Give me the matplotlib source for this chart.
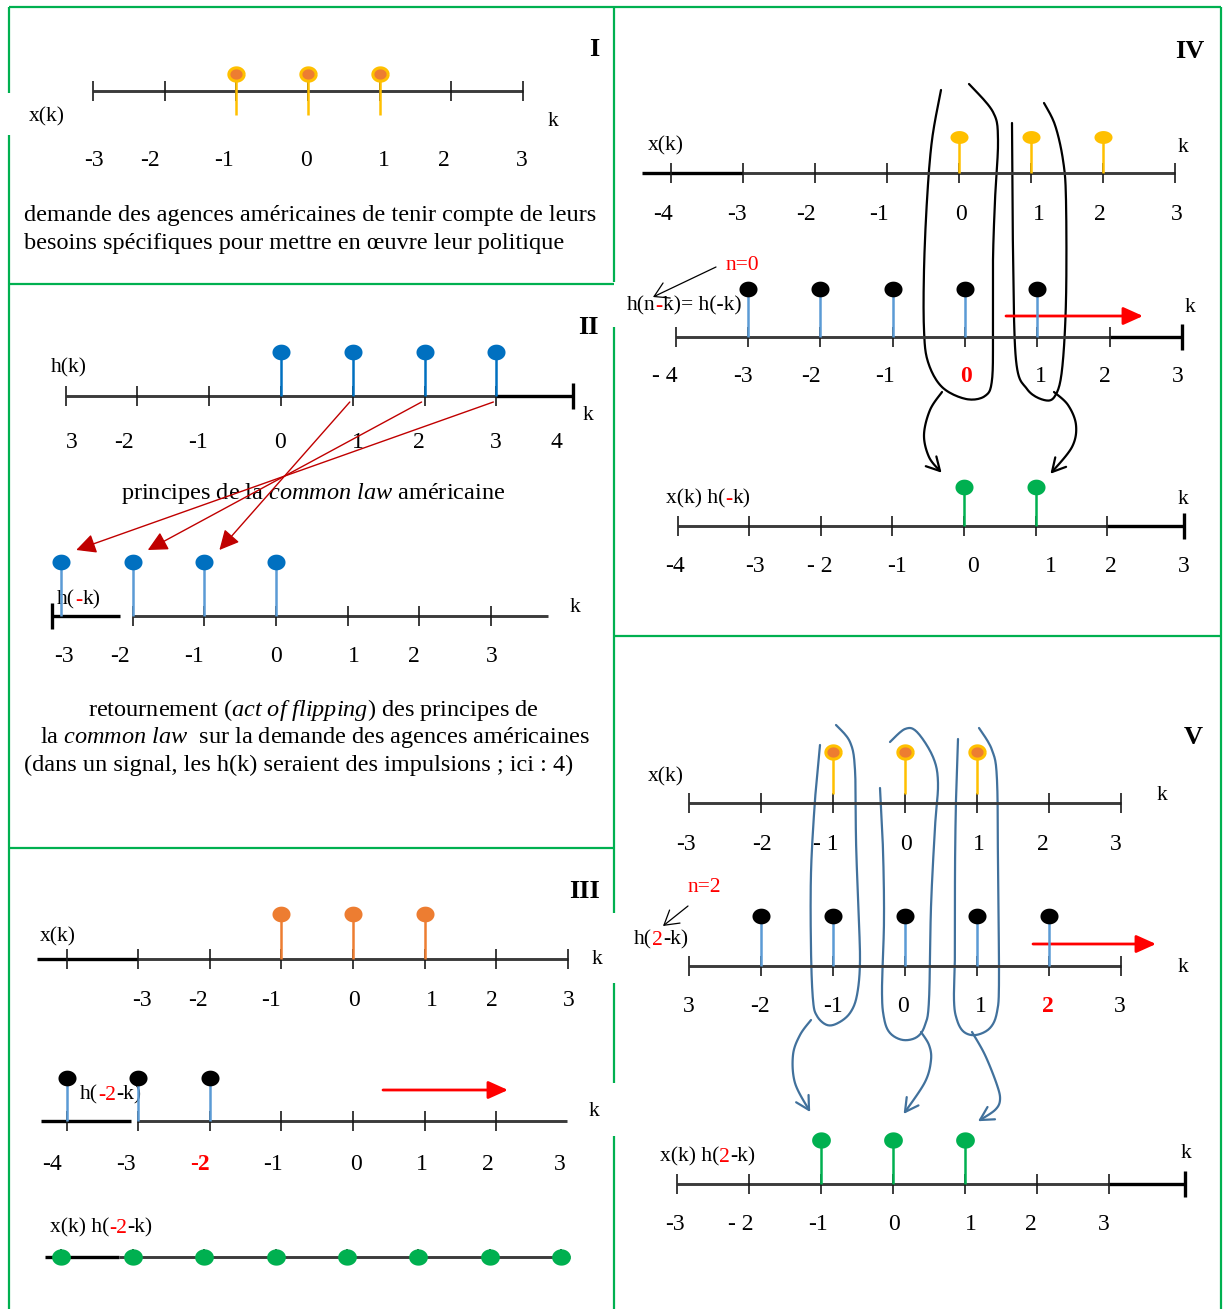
import numpy as np
import matplotlib
matplotlib.use("Agg")
import matplotlib.pyplot as plt
from matplotlib.path import Path
from matplotlib.patches import FancyArrowPatch

# ======================================================
# DATA
# ======================================================

# I : x(k)
ticks_I = [-3, -2, -1, 0, 1, 2, 3]
labels_I = ["-3", "-2", "-1", "0", "1", "2", "3"]
xk_I = [-1, 0, 1]
xv_I = [1, 1, 1]

# II : h(k) and its flip h(-k)
ticks_II = [-3, -2, -1, 0, 1, 2, 3]
labels_II_h = ["3", "-2", "-1", "0", "1", "2", "3", "4"]
hk_II = [0, 1, 2, 3]
hv_II = [1, 1, 1, 1]
labels_II_f = ["-3", "-2", "-1", "0", "1", "2", "3"]
fk_II = [-3, -2, -1, 0]
fv_II = [1, 1, 1, 1]
flip_from = [1, 2, 3]

# III : x(k), h(-2-k) and the product
ticks_III = [-4, -3, -2, -1, 0, 1, 2, 3]
labels_III_x = ["-3", "-2", "-1", "0", "1", "2", "3"]
xk_III = [-1, 0, 1]
xv_III = [1, 1, 1]
labels_III_h = ["-4", "-3", "-2", "-1", "0", "1", "2", "3"]
hk_III = [-4, -3, -2]
hv_III = [1, 1, 1]
pk_III = [-4, -3, -2, -1, 0, 1, 2, 3]
pv_III = [0, 0, 0, 0, 0, 0, 0, 0]

# IV : n = 0
ticks_IV = [-4, -3, -2, -1, 0, 1, 2, 3]
labels_IV_x = ["-4", "-3", "-2", "-1", "0", "1", "2", "3"]
xk_IV = [0, 1, 2]
xv_IV = [1, 1, 1]
labels_IV_h = ["- 4", "-3", "-2", "-1", "0", "1", "2", "3"]
hk_IV = [-3, -2, -1, 0, 1]
hv_IV = [1, 1, 1, 1, 1]
labels_IV_p = ["-4", "-3", "- 2", "-1", "0", "1", "2", "3"]
pk_IV = [0, 1]
pv_IV = [1, 1]

# V : n = 2
ticks_V = [-3, -2, -1, 0, 1, 2, 3]
labels_V_x = ["-3", "-2", "- 1", "0", "1", "2", "3"]
xk_V = [-1, 0, 1]
xv_V = [1, 1, 1]
labels_V_h = ["3", "-2", "-1", "0", "1", "2", "3"]
hk_V = [-2, -1, 0, 1, 2]
hv_V = [1, 1, 1, 1, 1]
labels_V_p = ["-3", "- 2", "-1", "0", "1", "2", "3"]
pk_V = [-1, 0, 1]
pv_V = [1, 1, 1]

# ======================================================
# LAYOUT (pixels) : x of k=0, px per k, y of line, px per unit
# ======================================================

W, H = 1226, 1309

L_I = (308, 71.7, 91, 17)
L_IIh = (281, 71.8, 396, 44)
L_IIf = (276, 71.6, 616, 54)
L_IIIx = (353, 71.6, 959, 45)
L_IIIh = (353, 71.6, 1121, 43)
L_IIIp = (347, 71.4, 1257, 40)
L_IVx = (959, 71.9, 173, 36)
L_IVh = (965, 72.3, 337, 48)
L_IVp = (964, 71.6, 526, 39)
L_Vx = (905, 71.9, 803, 51)
L_Vh = (905, 71.9, 966, 50)
L_Vp = (893, 72.0, 1184, 44)

GREEN = "#00B050"
GOLD = "#FFC000"
ORANGE = "#ED7D31"
BLUE = "#0070C0"
LBLUE = "#5B9BD5"
RED = "#FF0000"
DRED = "#C00000"
LOOP_BLUE = "#41719C"
FS = 17.5      # body text
TS = 17        # tick labels
LS = 15.5      # small labels
RS = 19        # roman numerals

plt.rcParams["font.family"] = ["Liberation Serif", "DejaVu Serif"]
plt.rcParams["mathtext.fontset"] = "custom"
plt.rcParams["mathtext.rm"] = "Liberation Serif"
plt.rcParams["mathtext.it"] = "Liberation Serif:italic"

fig = plt.figure(figsize=(W / 100, H / 100), dpi=100)
bg = fig.add_axes([0, 0, 1, 1])
bg.set_xlim(0, W)
bg.set_ylim(H, 0)
bg.axis("off")


def ellipse(ratio):
    t = np.linspace(0, 2 * np.pi, 64)
    return Path(np.column_stack([ratio * np.cos(t), np.sin(t)]))


def line_axes(line):
    x0, dx, y0, amp = line
    ax = fig.add_axes([0, 0, 1, 1])
    ax.set_xlim(-x0 / dx, (W - x0) / dx)
    ax.set_ylim((y0 - H) / amp, y0 / amp)
    ax.axis("off")
    ax.amp = amp
    return ax


def to_px(line, k, a=0):
    x0, dx, y0, amp = line
    return x0 + k * dx, y0 - a * amp


def number_line(line, segs, ticks, big=(), tick_px=10):
    ax = line_axes(line)
    amp = ax.amp
    for a, b, kind in segs:
        if kind == "b":
            ax.plot([a, b], [0, 0], color="black", lw=2.4, solid_capstyle="butt")
        else:
            ax.plot([a, b], [0, 0], color="#3b3b3b", lw=2.1, solid_capstyle="butt")
    ax.vlines(ticks, -tick_px / amp, tick_px / amp, color="#1a1a1a", lw=1.2)
    if len(big):
        ax.vlines(big, -13 / amp, 13 / amp, color="black", lw=2.4)
    return ax


def stems(ax, ks, vs, stem_c, face, edge=None, ms=13, ratio=1.15,
          base_px=0, mew=0):
    ax.vlines(ks, base_px / ax.amp, vs, color=stem_c, lw=1.8, zorder=3)
    ax.plot(ks, vs, ls="none", marker=ellipse(ratio), ms=ms, mfc=face,
            mec=edge or face, mew=mew, zorder=4)


def tick_labels(texts, xs, y, red=None):
    for i, (s, x) in enumerate(zip(texts, xs)):
        if i == red:
            bg.text(x, y, s, color=RED, fontweight="bold", fontsize=TS,
                    ha="center", va="center")
        else:
            bg.text(x, y, s, fontsize=TS, ha="center", va="center")


def pieces(x, y, parts, size=LS):
    t = bg.text(x, y, parts[0][0], color=parts[0][1], fontsize=size,
                ha="left", va="center")
    for s, c in parts[1:]:
        t = bg.annotate(s, xycoords=t, xy=(1, 0), ha="left", va="bottom",
                        color=c, fontsize=size)
    return t


def label(x, y, s, color="black"):
    bg.text(x, y, s, color=color, fontsize=LS, ha="center", va="center")


def smooth(pts, n=12):
    P = np.array(pts, float)
    P = np.vstack([P[0], P, P[-1]])
    out = []
    t = np.linspace(0, 1, n, endpoint=False)[:, None]
    for i in range(1, len(P) - 2):
        p0, p1, p2, p3 = P[i - 1], P[i], P[i + 1], P[i + 2]
        out.append(0.5 * (2 * p1 + (p2 - p0) * t
                          + (2 * p0 - 5 * p1 + 4 * p2 - p3) * t ** 2
                          + (3 * p1 - p0 - 3 * p2 + p3) * t ** 3))
    out.append(P[-2][None])
    return np.vstack(out)


def loop(pts, color, lw=1.6):
    c = smooth(pts)
    bg.plot(c[:, 0], c[:, 1], color=color, lw=lw, solid_capstyle="round")


def curve_arrow(pts, color, lw=1.6, head=15):
    c = smooth(pts)
    bg.plot(c[:, 0], c[:, 1], color=color, lw=lw, solid_capstyle="round")
    tip = c[-1]
    d = tip - c[-5]
    d = d / np.hypot(*d)
    for ang in (0.5, -0.5):
        r = np.array([[np.cos(ang), -np.sin(ang)], [np.sin(ang), np.cos(ang)]])
        arm = tip - head * (r @ d)
        bg.plot([tip[0], arm[0]], [tip[1], arm[1]], color=color, lw=lw,
                solid_capstyle="round")


def straight_arrow(p, q, color, lw, scale, hl=0.4, hw=0.18):
    bg.add_patch(FancyArrowPatch(p, q, arrowstyle=f"-|>,head_length={hl},head_width={hw}",
                                 mutation_scale=scale, color=color, lw=lw,
                                 shrinkA=0, shrinkB=0, zorder=6))


def pointer(p, q):
    bg.add_patch(FancyArrowPatch(p, q, arrowstyle="->,head_length=0.5,head_width=0.3",
                                 mutation_scale=20, color="black", lw=0.9,
                                 shrinkA=0, shrinkB=0, zorder=6))


# ======================================================
# BORDERS
# ======================================================

borders = [
    ((9, 7), (1221, 7)),
    ((9, 7), (9, 93)), ((9, 135), (9, 1309)),
    ((614, 7), (614, 282)), ((614, 327), (614, 913)),
    ((614, 983), (614, 1083)), ((614, 1136), (614, 1309)),
    ((1221, 7), (1221, 1309)),
    ((9, 284), (614, 284)), ((9, 848), (614, 848)), ((614, 636), (1221, 636)),
]
for p, q in borders:
    bg.plot([p[0], q[0]], [p[1], q[1]], color=GREEN, lw=1.6, solid_capstyle="butt")

# ======================================================
# PANEL I
# ======================================================

ax = number_line(L_I, [(-3, 3, "g")], ticks_I)
stems(ax, xk_I, xv_I, GOLD, ORANGE, edge=GOLD, ms=11, mew=2.2, base_px=-24)
tick_labels(labels_I, [94, 150, 224, 306, 384, 444, 522], 160)
label(47, 117, "x(k)")
label(553, 121, "k")
bg.text(594, 50, "I", fontsize=RS, fontweight="bold", ha="center", va="center")
bg.text(24, 216, "demande des agences américaines de tenir compte de leurs",
        fontsize=FS, ha="left", va="center")
bg.text(24, 243, "besoins spécifiques pour mettre en œuvre leur politique",
        fontsize=FS, ha="left", va="center")

# ======================================================
# PANEL II
# ======================================================

ax = number_line(L_IIh, [(-3, 3, "g"), (3, 4.07, "b")], ticks_II, big=[4.07])
stems(ax, hk_II, hv_II, BLUE, BLUE)
tick_labels(labels_II_h, [72, 124, 198, 280, 358, 419, 496, 556], 443)
label(69, 368, "h(k)")
label(588, 415, "k")
bg.text(588, 328, "II", fontsize=RS, fontweight="bold", ha="center", va="center")

ax = number_line(L_IIf, [(-3.13, -2.18, "b"), (-2, 3.8, "g")], ticks_II[1:], big=[-3.13])
stems(ax, fk_II, fv_II, LBLUE, BLUE)
tick_labels(labels_II_f, [64, 120, 194, 276, 354, 414, 492], 657)
pieces(57, 600, [("h(", "black"), ("-", RED), ("k)", "black")])
label(575, 608, "k")

for k in flip_from:
    sx, sy = to_px(L_IIh, k)
    ex, ey = to_px(L_IIf, -k, 1)
    straight_arrow((sx - 3, sy + 6), (ex + 15, ey - 12), DRED, 1.0, 24, hl=0.5, hw=0.25)

bg.text(121, 494, r"principes de la $\mathit{common\ law}$ américaine",
        fontsize=FS, ha="left", va="center")
bg.text(88, 710, r"retournement ($\mathit{act\ of\ flipping}$) des principes de",
        fontsize=FS, ha="left", va="center")
bg.text(40, 737, r"la $\mathit{common\ law}$  sur la demande des agences américaines",
        fontsize=FS, ha="left", va="center")
bg.text(24, 765, "(dans un signal, les h(k) seraient des impulsions ; ici : 4)",
        fontsize=FS, ha="left", va="center")

# ======================================================
# PANEL III
# ======================================================

ax = number_line(L_IIIx, [(-4.42, -3, "b"), (-3, 3, "g")], ticks_III)
stems(ax, xk_III, xv_III, ORANGE, ORANGE)
tick_labels(labels_III_x, [142, 198, 271, 354, 432, 492, 569], 1001)
label(58, 937, "x(k)")
label(597, 959, "k")
bg.text(585, 892, "III", fontsize=RS, fontweight="bold", ha="center", va="center")

ax = number_line(L_IIIh, [(-4.36, -3.1, "b"), (-3.02, 2.99, "g")], ticks_III[:-1])
stems(ax, hk_III, hv_III, LBLUE, "black")
tick_labels(labels_III_h, [52, 126, 200, 273, 356, 422, 488, 560], 1164, red=2)
pieces(80, 1095, [("h(", "black"), ("-2", RED), ("-k)", "black")])
label(594, 1112, "k")
straight_arrow((383, 1090), (508, 1090), RED, 2.0, 30)

ax = number_line(L_IIIp, [(-4.23, -3.2, "b"), (-3.2, 3.12, "g")], pk_III, tick_px=8)
stems(ax, pk_III, pv_III, GREEN, GREEN, ms=13.5)
pieces(50, 1228, [("x(k) h(", "black"), ("-2", RED), ("-k)", "black")])

# ======================================================
# PANEL IV
# ======================================================

ax = number_line(L_IVx, [(-4.41, -3, "b"), (-3, 3, "g")], ticks_IV)
stems(ax, xk_IV, xv_IV, GOLD, GOLD, ms=13, ratio=1.4)
tick_labels(labels_IV_x, [663, 737, 806, 879, 961, 1039, 1100, 1177], 215)
label(666, 146, "x(k)")
label(1183, 147, "k")
bg.text(1190, 52, "IV", fontsize=RS, fontweight="bold", ha="center", va="center")

ax = number_line(L_IVh, [(-4, 2, "g"), (2, 3, "b")], ticks_IV[:-1], big=[3])
stems(ax, hk_IV, hv_IV, LBLUE, "black")
tick_labels(labels_IV_h, [665, 743, 811, 885, 966, 1041, 1105, 1178], 377, red=4)
pieces(627, 306, [("h(n", "black"), ("-", RED), ("k)= h(-k)", "black")])
label(742, 266, "n=0", RED)
pointer((716, 267), (653, 297))
straight_arrow((1006, 316), (1143, 316), RED, 2.0, 30)
label(1190, 307, "k")

ax = number_line(L_IVp, [(-4, 2, "g"), (2, 3.07, "b")], ticks_IV[:-1], big=[3.07])
stems(ax, pk_IV, pv_IV, GREEN, GREEN)
tick_labels(labels_IV_p, [675, 755, 820, 897, 973, 1051, 1111, 1184], 567)
pieces(666, 499, [("x(k) h(", "black"), ("-", RED), ("k)", "black")])
label(1183, 500, "k")

loop([(941, 90), (932, 140), (927, 200), (924, 270), (924, 330), (928, 362),
      (942, 387), (966, 399), (985, 396), (992, 380), (993, 330), (993, 260),
      (995, 200), (998, 140), (993, 112), (969, 84)], "black")
loop([(1012, 123), (1013, 250), (1016, 360), (1027, 389), (1044, 400),
      (1055, 396), (1062, 370), (1066, 300), (1066, 200), (1063, 160),
      (1055, 125), (1044, 103)], "black")
curve_arrow([(942, 392), (930, 410), (924, 435), (929, 457), (940, 471)], "black")
curve_arrow([(1054, 392), (1068, 405), (1076, 425), (1072, 447), (1052, 472)], "black")

# ======================================================
# PANEL V
# ======================================================

ax = number_line(L_Vx, [(-3, 3, "g")], ticks_V)
stems(ax, xk_V, xv_V, GOLD, ORANGE, edge=GOLD, ms=11, mew=2.2, base_px=9)
tick_labels(labels_V_x, [686, 762, 826, 906, 979, 1043, 1116], 845)
label(666, 777, "x(k)")
label(1162, 796, "k")
bg.text(1193, 737, "V", fontsize=RS, fontweight="bold", ha="center", va="center")

ax = number_line(L_Vh, [(-3, 3, "g")], ticks_V)
stems(ax, hk_V, hv_V, LBLUE, "black")
tick_labels(labels_V_h, [689, 760, 833, 903, 981, 1048, 1120], 1007, red=5)
label(704, 888, "n=2", RED)
pointer((688, 906), (663, 926))
pieces(634, 940, [("h(", "black"), ("2", RED), ("-k)", "black")])
label(1183, 967, "k")
straight_arrow((1033, 944), (1156, 944), RED, 2.0, 30)

ax = number_line(L_Vp, [(-3, 3, "g"), (3, 4.05, "b")], ticks_V, big=[4.05])
stems(ax, pk_V, pv_V, GREEN, GREEN, ms=13.5)
tick_labels(labels_V_p, [675, 741, 818, 894, 971, 1031, 1104], 1225)
pieces(660, 1157, [("x(k) h(", "black"), ("2", RED), ("-k)", "black")])
label(1186, 1153, "k")

loop([(820, 745), (815, 800), (811, 873), (811, 950), (813, 1000), (817, 1016),
      (827, 1025), (838, 1023), (850, 1013), (857, 995), (860, 960), (858, 900),
      (856, 840), (855, 770), (850, 742), (836, 725)], LOOP_BLUE)
loop([(880, 788), (883, 850), (884, 920), (882, 990), (884, 1018), (890, 1033),
      (903, 1040), (917, 1037), (925, 1025), (929, 1000), (931, 907), (935, 827),
      (938, 783), (933, 757), (917, 732), (905, 729), (890, 742)], LOOP_BLUE)
loop([(958, 739), (956, 800), (955, 870), (955, 950), (954, 1000), (957, 1020),
      (964, 1032), (976, 1035), (990, 1028), (997, 1012), (999, 980), (998, 873),
      (997, 780), (992, 750), (979, 728)], LOOP_BLUE)
curve_arrow([(811, 1020), (800, 1035), (793, 1055), (795, 1083), (809, 1110)], LOOP_BLUE)
curve_arrow([(921, 1032), (929, 1045), (931, 1060), (925, 1082), (905, 1112)], LOOP_BLUE)
curve_arrow([(972, 1032), (985, 1055), (997, 1085), (1000, 1100), (995, 1110),
             (980, 1120)], LOOP_BLUE)

fig.savefig("out.png", dpi=100)
